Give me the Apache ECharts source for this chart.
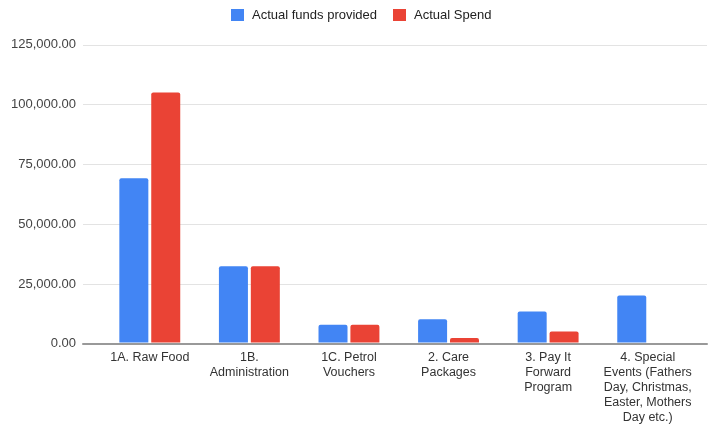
<!DOCTYPE html>
<html>
<head>
<meta charset="utf-8">
<script src="https://cdn.jsdelivr.net/npm/echarts@6/dist/echarts.min.js"></script>
<style>html,body{margin:0;padding:0;background:#fff;}#c{width:709px;height:425px;}</style>
</head>
<body>
<div id="c"></div>
<script>
const categories = ["1A. Raw Food", "1B. Administration", "1C. Petrol Vouchers", "2. Care Packages", "3. Pay It Forward Program", "4. Special Events (Fathers Day, Christmas, Easter, Mothers Day etc.)"];
const tickLabels = ["1A. Raw Food", "1B.\nAdministration", "1C. Petrol\nVouchers", "2. Care\nPackages", "3. Pay It\nForward\nProgram", "4. Special\nEvents (Fathers\nDay, Christmas,\nEaster, Mothers\nDay etc.)"];
const seriesNames = ["Actual funds provided", "Actual Spend"];
const fundsProvided = [69000, 32000, 7500, 9800, 13000, 19700];
const actualSpend = [105000, 32000, 7500, 1900, 4600, 0];
const yTicks = [0, 25000, 50000, 75000, 100000, 125000];

const font = "'Liberation Sans', Arial, sans-serif";
const yMin = yTicks[0], yMax = yTicks[yTicks.length - 1], yStep = yTicks[1] - yTicks[0];
const fmt = v => v.toLocaleString('en-US', {minimumFractionDigits: 2, maximumFractionDigits: 2});

const chart = echarts.init(document.getElementById('c'), null, {renderer: 'canvas'});
chart.setOption({
  animation: false,
  color: ['#4285F4', '#EA4335'],
  textStyle: {fontFamily: font},
  legend: {
    top: 3.5, left: 226,
    itemWidth: 13, itemHeight: 12, itemGap: 16,
    icon: 'rect',
    textStyle: {fontSize: 13, color: '#222', fontFamily: font, padding: [0, 0, 0, 3]},
    data: seriesNames
  },
  grid: [
    {left: 83, right: 2, top: 44.8, bottom: 81.2},
    {left: 100, right: 11.5, top: 44.8, bottom: 81.2}
  ],
  xAxis: [
    {gridIndex: 0, type: 'value', min: 0, max: 1,
     axisLine: {show: true, lineStyle: {color: '#999', width: 2}},
     axisTick: {show: false}, axisLabel: {show: false}, splitLine: {show: false}},
    {gridIndex: 1, type: 'category', data: categories,
     axisLine: {show: false}, axisTick: {show: false},
     axisLabel: {
       interval: 0, margin: 7.5, fontSize: 12.5, lineHeight: 15, color: '#333', fontFamily: font, align: 'center',
       formatter: (v, i) => tickLabels[i]
     }}
  ],
  yAxis: [
    {gridIndex: 0, type: 'value', min: yMin, max: yMax, interval: yStep,
     axisLine: {show: false}, axisTick: {show: false},
     axisLabel: {fontSize: 13, color: '#444', margin: 7, fontFamily: font, formatter: fmt},
     splitLine: {lineStyle: {color: '#e3e3e3', width: 1}}},
    {gridIndex: 1, type: 'value', min: yMin, max: yMax, interval: yStep,
     axisLine: {show: false}, axisTick: {show: false}, axisLabel: {show: false}, splitLine: {show: false}}
  ],
  series: [
    {name: seriesNames[0], type: 'bar', xAxisIndex: 1, yAxisIndex: 1, data: fundsProvided,
     barWidth: 29, barGap: '10%', itemStyle: {borderRadius: [2, 2, 0, 0]}},
    {name: seriesNames[1], type: 'bar', xAxisIndex: 1, yAxisIndex: 1, data: actualSpend,
     barWidth: 29, barGap: '10%', itemStyle: {borderRadius: [2, 2, 0, 0]}}
  ]
});
</script>
</body>
</html>
